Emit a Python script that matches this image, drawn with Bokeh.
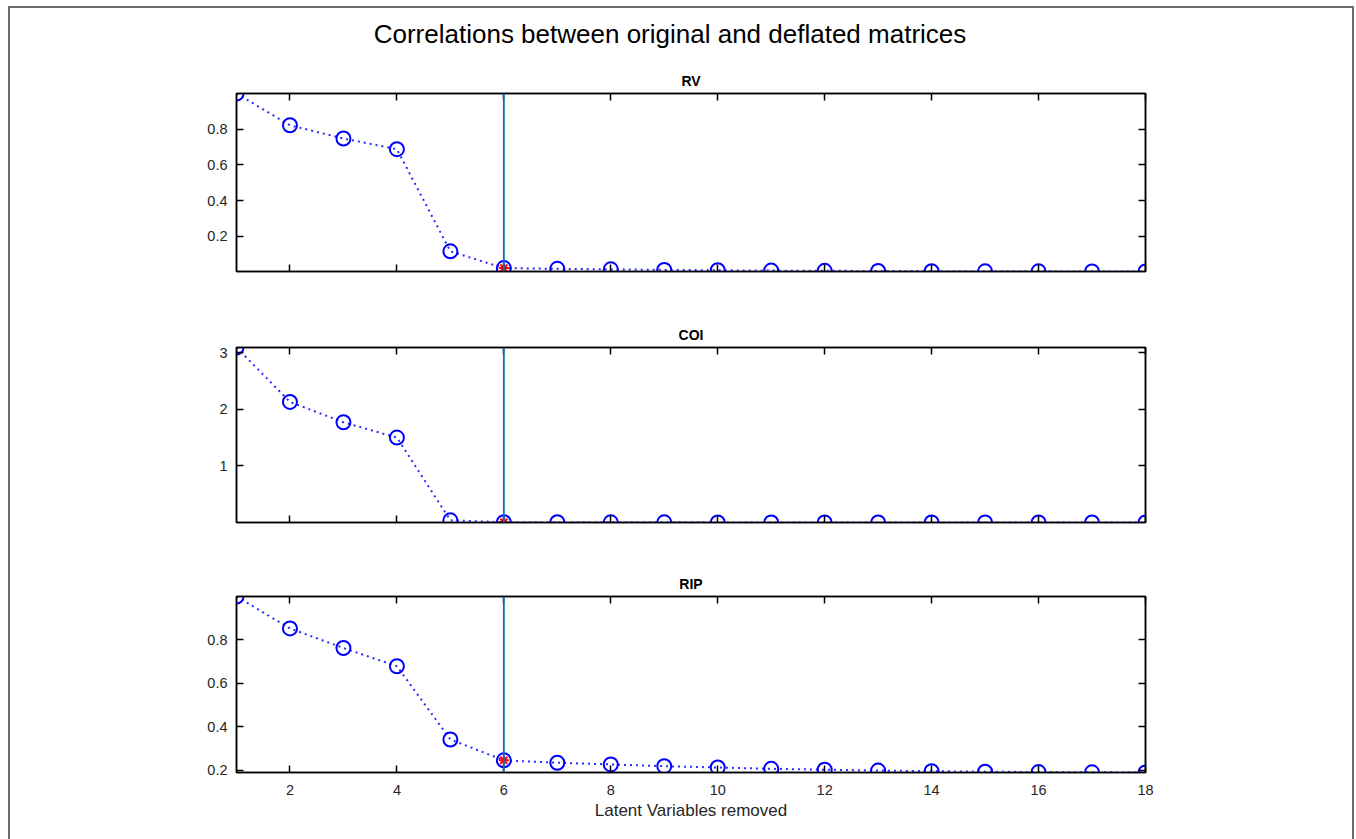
from bokeh.plotting import figure
from bokeh.models import Range1d, FixedTicker, LinearAxis, Span, Div, CustomJSTickFormatter, ColumnDataSource
from bokeh.layouts import column
from bokeh.embed import file_html
from bokeh.resources import INLINE

# ---- data ----
lv_removed = list(range(1, 19))
rv_values = [1.0, 0.822, 0.748, 0.688, 0.116, 0.022, 0.018, 0.015, 0.012, 0.010,
             0.008, 0.007, 0.006, 0.005, 0.004, 0.004, 0.003, 0.003]
coi_values = [3.09, 2.13, 1.77, 1.50, 0.04, 0.006, 0.005, 0.004, 0.004, 0.003,
              0.003, 0.003, 0.002, 0.002, 0.002, 0.001, 0.001, 0.001]
rip_values = [1.0, 0.853, 0.763, 0.679, 0.342, 0.246, 0.235, 0.227, 0.219, 0.213,
              0.207, 0.203, 0.199, 0.196, 0.194, 0.192, 0.191, 0.190]
selected_lv = 6
x_ticks = [2, 4, 6, 8, 10, 12, 14, 16, 18]
rv_ticks = [0.2, 0.4, 0.6, 0.8]
coi_ticks = [1, 2, 3]
rip_ticks = [0.2, 0.4, 0.6, 0.8]
panel_titles = ["RV", "COI", "RIP"]
main_title = "Correlations between original and deflated matrices"
x_label = "Latent Variables removed"

FONT = "Liberation Sans"
W = 1342
LEFT, RIGHT = 226, 207


def style_axis(ax, ticks, labels=True):
    ax.ticker = FixedTicker(ticks=ticks)
    ax.major_tick_in = 7
    ax.major_tick_out = 0
    ax.minor_tick_line_color = None
    ax.axis_line_color = "black"
    ax.axis_line_width = 1.5
    ax.major_tick_line_color = "black"
    ax.major_tick_line_width = 1.5
    ax.major_label_text_font = FONT
    ax.major_label_text_font_size = "14.5px"
    ax.major_label_text_color = "#262626"
    if not labels:
        ax.formatter = CustomJSTickFormatter(code="return ''")


def make_panel(values, title, yticks, height, top, bottom, show_xlabels):
    p = figure(width=W, height=height, output_backend="svg", toolbar_location=None,
               x_range=Range1d(min(lv_removed), max(lv_removed)),
               y_range=Range1d(min(values), max(values)),
               min_border_left=LEFT, min_border_right=RIGHT,
               min_border_top=top, min_border_bottom=bottom)
    p.xgrid.visible = False
    p.ygrid.visible = False
    p.outline_line_color = "black"
    p.outline_line_width = 1.5
    p.background_fill_color = "white"
    p.border_fill_color = "white"
    p.title.text = title
    p.title.align = "center"
    p.title.text_font = FONT
    p.title.text_font_size = "14px"
    p.title.text_font_style = "bold"
    p.title.text_color = "black"
    p.title.standoff = 9

    style_axis(p.xaxis[0], x_ticks, labels=show_xlabels)
    style_axis(p.yaxis[0], yticks)
    if show_xlabels:
        p.xaxis[0].major_label_standoff = 12
        p.xaxis[0].axis_label = x_label
        p.xaxis[0].axis_label_text_font = FONT
        p.xaxis[0].axis_label_text_font_size = "17px"
        p.xaxis[0].axis_label_text_font_style = "normal"
        p.xaxis[0].axis_label_text_color = "#262626"
        p.xaxis[0].axis_label_standoff = 3
    p.yaxis[0].major_label_standoff = 9

    top_ax = LinearAxis()
    style_axis(top_ax, x_ticks, labels=False)
    p.add_layout(top_ax, "above")
    right_ax = LinearAxis()
    style_axis(right_ax, yticks, labels=False)
    p.add_layout(right_ax, "right")

    p.add_layout(Span(location=selected_lv, dimension="height",
                      line_color="#0072BD", line_width=1.8))

    src = ColumnDataSource(dict(x=lv_removed, y=values))
    p.line("x", "y", source=src, line_color="#2a2aff", line_width=2, line_dash="2 4")
    p.scatter("x", "y", source=src, marker="circle", size=14, fill_color=None,
              line_color="blue", line_width=2)
    sel = ColumnDataSource(dict(x=[selected_lv], y=[values[lv_removed.index(selected_lv)]]))
    p.scatter("x", "y", source=sel, marker="asterisk", size=10, line_color="red", line_width=2)
    return p


title_div = Div(text=main_title, width=W, height=45, margin=(0, 0, 0, 0),
                styles={"text-align": "center", "font-family": f"'{FONT}'",
                        "font-size": "26px", "color": "#000", "padding-top": "8px",
                        "padding-right": "22px", "box-sizing": "border-box",
                        "white-space": "nowrap", "width": f"{W}px",
                        "display": "block"})

p1 = make_panel(rv_values, panel_titles[0], rv_ticks, 247, 40, 29, False)
p2 = make_panel(coi_values, panel_titles[1], coi_ticks, 250, 47, 28, False)
p3 = make_panel(rip_values, panel_titles[2], rip_ticks, 292, 46, 70, True)

layout = column(title_div, p1, p2, p3, spacing=0,
                styles={"border": "2px solid #6b6b6b", "background": "white"},
                margin=(6, 0, 0, 8))

open("out.html", "w").write(file_html(layout, INLINE))
